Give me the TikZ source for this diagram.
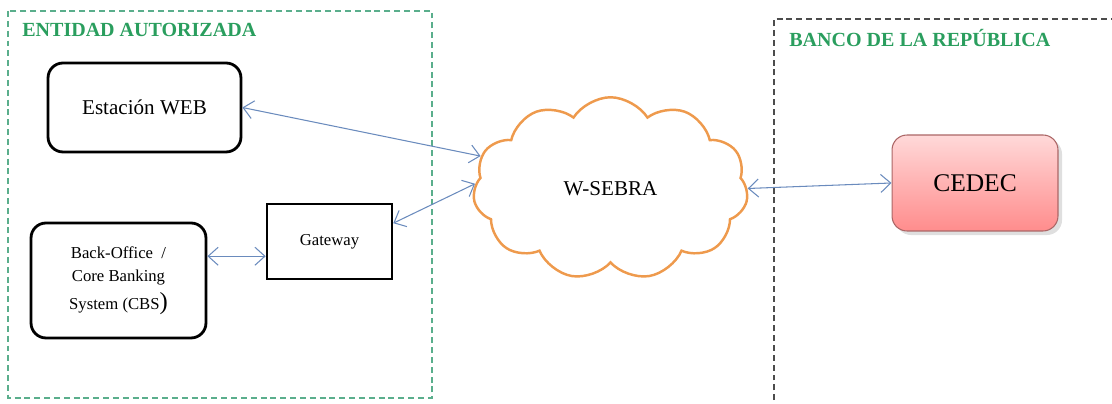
\documentclass[tikz,border=0pt]{standalone}
\usepackage{fontspec}
\setmainfont{Liberation Serif}
\usetikzlibrary{calc,positioning,arrows.meta,shapes.symbols,shadows}
\definecolor{verde}{HTML}{2A9E5E}
\definecolor{zona}{HTML}{5AAE8C}
\definecolor{azul}{HTML}{6A8BBD}
\definecolor{naranja}{HTML}{EE9A4D}

\begin{document}
\begin{tikzpicture}[x=0.02cm,y=-0.02cm,
  caja/.style={draw,line width=1.6pt,rounded corners=0.3cm,align=center},
  flecha/.style={draw=azul,line width=0.6pt,{Straight Barb[length=2mm,width=3.6mm]}-{Straight Barb[length=2mm,width=3.6mm]}},
  titulo/.style={anchor=west,text=verde,inner sep=0pt,font=\fontsize{11.4}{13}\selectfont\bfseries}]
\useasboundingbox (0,0) rectangle (1112,404);
%zonas
\draw[zona,line width=0.6pt,dash pattern=on 3.4pt off 2.2pt] (8,11) rectangle (432,398);
\draw[black!70,line width=0.6pt,dash pattern=on 3.4pt off 2.2pt] (774,410)--(774,19)--(1120,19);
\node[titulo] (ent) at (22,30) {ENTIDAD AUTORIZADA};
\node[titulo] (ban) at (789,38) {BANCO DE LA REPÚBLICA};
%nodos
\node[caja,minimum width=3.86cm,minimum height=1.78cm,font=\fontsize{12}{14}\selectfont] (web) at (144.5,107.5) {Estación WEB};
\node[caja,minimum width=3.5cm,minimum height=2.3cm,font=\fontsize{9.5}{12.5}\selectfont] (bo) at (118.5,280.5)
  {Back-Office\ \ /\\[1pt] Core Banking\\[3pt] System (CBS{\fontsize{14}{14}\selectfont)}};
\node[draw,line width=1.5pt,minimum width=2.5cm,minimum height=1.5cm,font=\fontsize{9.5}{12}\selectfont] (gw) at (329.5,241.5) {Gateway};
\node[cloud,draw=naranja,line width=1.4pt,cloud puffs=11,cloud puff arc=115,cloud ignores aspect,
  minimum width=5.5cm,minimum height=3.65cm,font=\fontsize{12}{14}\selectfont] (nube) at (610.5,188.5) {W-SEBRA};
\node[draw=red!45!black!60,line width=0.6pt,rounded corners=0.3cm,top color=red!15,bottom color=red!45,
  drop shadow={opacity=0.25},minimum width=3.32cm,minimum height=1.92cm,font=\fontsize{14.5}{16}\selectfont] (cedec) at (975,183) {CEDEC};
%conexiones
\draw[flecha] (web.east)--(nube.166);
\draw[flecha] (gw.16)--(nube.178);
\draw[flecha] (bo.east |- gw.193)--(gw.193);
\draw[flecha] (nube.0)--(cedec.west);
\end{tikzpicture}
\end{document}
